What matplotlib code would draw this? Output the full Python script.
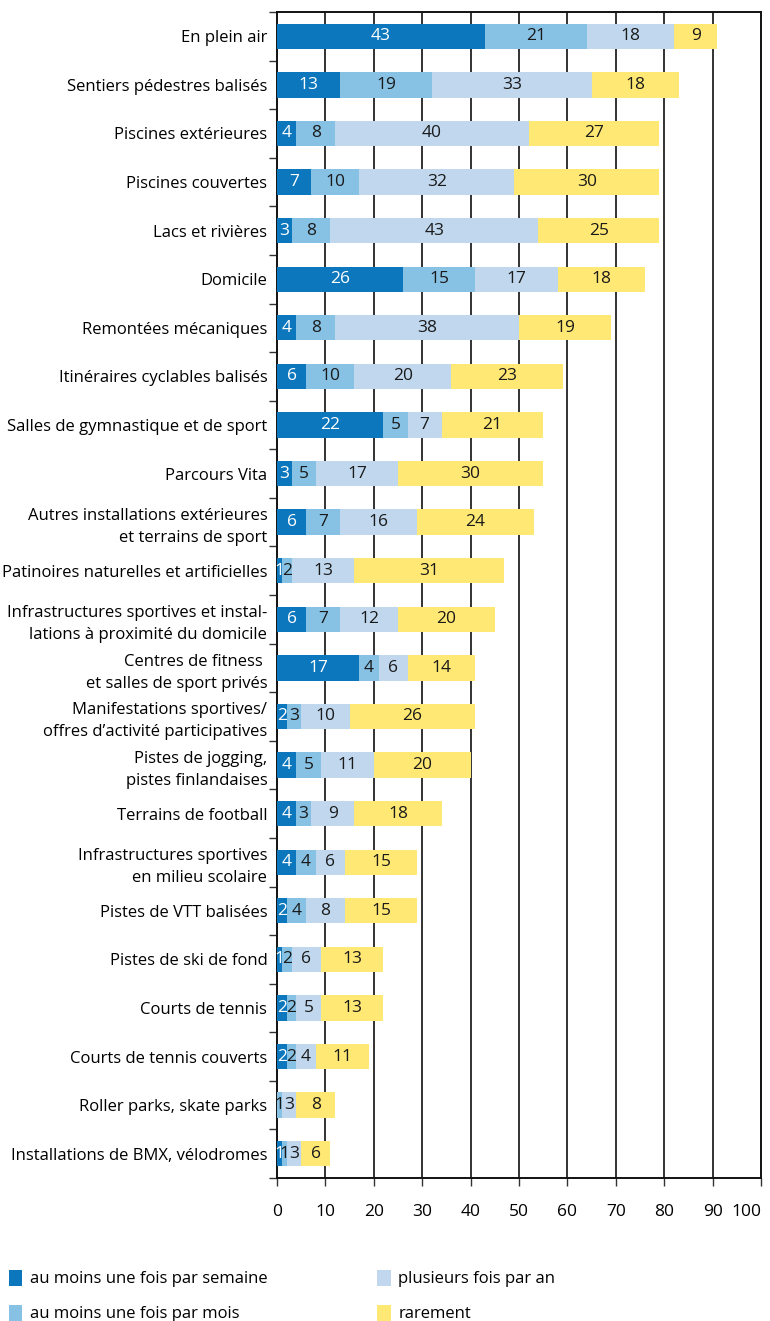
import matplotlib
matplotlib.use("Agg")
import matplotlib.pyplot as plt
from matplotlib import font_manager
from matplotlib.patches import Patch

names = {f.name for f in font_manager.fontManager.ttflist}
fam = [n for n in ["Liberation Sans Narrow", "Open Sans", "DejaVu Sans"] if n in names]
plt.rcParams['font.family'] = fam + ["DejaVu Sans"]

categories = [
    "En plein air", "Sentiers pédestres balisés", "Piscines extérieures",
    "Piscines couvertes", "Lacs et rivières", "Domicile", "Remontées mécaniques",
    "Itinéraires cyclables balisés", "Salles de gymnastique et de sport",
    "Parcours Vita", "Autres installations extérieures\net terrains de sport",
    "Patinoires naturelles et artificielles",
    "Infrastructures sportives et instal-\nlations à proximité du domicile",
    "Centres de fitness \net salles de sport privés",
    "Manifestations sportives/\noffres d’activité participatives",
    "Pistes de jogging,\npistes finlandaises", "Terrains de football",
    "Infrastructures sportives\nen milieu scolaire", "Pistes de VTT balisées",
    "Pistes de ski de fond", "Courts de tennis", "Courts de tennis couverts",
    "Roller parks, skate parks", "Installations de BMX, vélodromes",
]
weekly   = [43, 13, 4, 7, 3, 26, 4, 6, 22, 3, 6, 1, 6, 17, 2, 4, 4, 4, 2, 1, 2, 2, 0, 1]
monthly  = [21, 19, 8, 10, 8, 15, 8, 10, 5, 5, 7, 2, 7, 4, 3, 5, 3, 4, 4, 2, 2, 2, 1, 1]
yearly   = [18, 33, 40, 32, 43, 17, 38, 20, 7, 17, 16, 13, 12, 6, 10, 11, 9, 6, 8, 6, 5, 4, 3, 3]
rarely   = [9, 18, 27, 30, 25, 18, 19, 23, 21, 30, 24, 31, 20, 14, 26, 20, 18, 15, 15, 13, 13, 11, 8, 6]
series_names = ["au moins une fois par semaine", "au moins une fois par mois",
                "plusieurs fois par an", "rarement"]
colors = ["#0d77bd", "#87c1e4", "#c0d7ee", "#ffe873"]
text_colors = ["white", "#1a1a1a", "#1a1a1a", "#1a1a1a"]
xticks = list(range(0, 101, 10))

fig = plt.figure(figsize=(7.7, 13.21), dpi=100)
W, H = 770, 1321
ax = fig.add_axes([277 / W, 1 - 1178 / H, (761 - 277) / W, (1178 - 12) / H])

y = list(range(len(categories)))
left = [0] * len(categories)
for vals, col, tc in zip([weekly, monthly, yearly, rarely], colors, text_colors):
    bars = ax.barh(y, vals, left=left, height=0.52, color=col, zorder=3)
    for b, v in zip(bars, vals):
        if v > 0:
            ax.text(b.get_x() + b.get_width() / 2, b.get_y() + b.get_height() / 2,
                    str(v), ha="center", va="center", color=tc, fontsize=12.5, zorder=4)
    left = [l + v for l, v in zip(left, vals)]

ax.set_xlim(0, 100)
ax.set_ylim(len(categories) - 0.5, -0.5)
ax.set_xticks(xticks)
ax.set_xticklabels([str(t) for t in xticks], fontsize=12.5)
ax.get_xticklabels()[-1].set_horizontalalignment("right")
ax.get_xticklabels()[-1].set_x(101.2)
ax.tick_params(axis="x", length=6, width=1, direction="out", pad=13, color="#333333")
ax.set_yticks(y)
ax.set_yticklabels(categories, fontsize=12, linespacing=1.5)
ax.tick_params(axis="y", which="major", length=0, pad=7)
ax.set_yticks([i + 0.5 for i in range(-1, len(categories))], minor=True)
ax.tick_params(axis="y", which="minor", length=6, width=1, direction="out", color="#333333")
for xv in xticks[1:-1]:
    ax.axvline(xv, color="#222222", linewidth=1.3, zorder=1)
for s in ax.spines.values():
    s.set_color("#111111")
    s.set_linewidth(1.4)

handles = [Patch(facecolor=c, edgecolor="none") for c in colors]
fig.legend(handles, series_names, loc="upper left", bbox_to_anchor=(0.003, 1 - 1263 / H),
           ncol=2, frameon=False, fontsize=12, handlelength=0.8, handleheight=1.1,
           handletextpad=0.45, columnspacing=6.6, labelspacing=1.05, borderaxespad=0)

fig.savefig("out.png", dpi=100)
